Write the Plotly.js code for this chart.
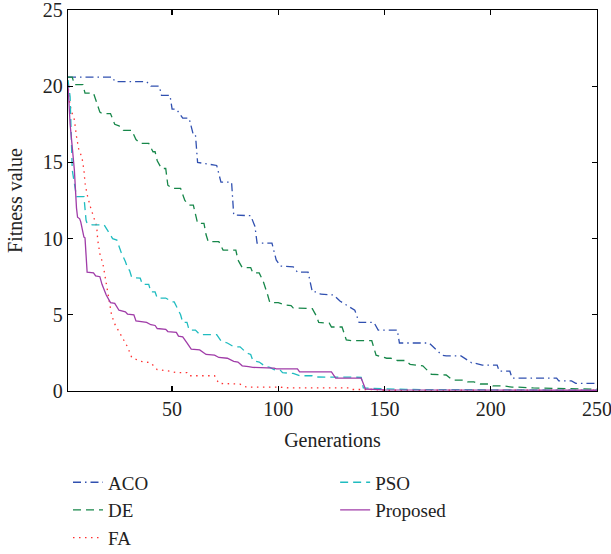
<!DOCTYPE html>
<html>
<head>
<meta charset="utf-8">
<script src="https://cdn.plot.ly/plotly-3.0.1.min.js"></script>
<style>html,body{margin:0;padding:0;background:#fff;}#chart{width:611px;height:554px;}</style>
</head>
<body>
<div id="chart"></div>
<script>
const seriesNames = ["ACO", "DE", "FA", "PSO", "Proposed"];

const acoX = [1,22,23,38,40,44,45,49,50,52,55,58,60,61,62,71,73,78,79,87,89,90,97,99,101,107,109,114,116,118,120,126,129,136,138,145,147,156,157,171,177,179,186,191,192,196,203,204,209,210,231,232,238,240,250];
const acoY = [20.6,20.6,20.3,20.3,20.0,20.0,19.4,19.4,18.5,18.5,17.9,17.9,16.8,16.8,15.0,14.8,13.7,13.7,11.55,11.5,10.8,9.7,9.7,8.6,8.2,8.15,7.8,7.8,6.5,6.5,6.35,6.3,5.9,5.3,4.5,4.5,4.0,4.0,3.15,3.15,2.35,2.3,2.3,1.85,1.85,1.7,1.7,1.3,1.3,0.85,0.85,0.66,0.66,0.5,0.5];

const deX = [1,3,4,8,9,13,16,17,21,23,25,27,31,33,35,39,41,42,43,45,47,48,50,54,56,58,60,61,62,65,66,67,72,74,80,81,83,87,88,91,93,95,96,100,103,106,107,116,118,119,124,125,130,132,135,144,146,151,153,156,160,162,168,172,179,182,187,189,192,195,199,201,206,210,213,220,238,240,250];
const deY = [20.6,20.6,20.1,20.1,19.55,19.55,18.3,18.2,18.2,17.5,17.4,17.1,17.1,16.5,16.25,16.25,15.7,15.7,15.1,14.6,14.6,13.5,13.3,13.3,12.5,12.2,12.2,11.5,11.0,11.0,10.25,9.8,9.8,9.25,9.25,8.6,8.1,8.1,7.75,7.75,7.15,6.3,5.8,5.8,5.65,5.6,5.45,5.4,4.9,4.5,4.45,4.2,4.2,3.35,3.3,3.3,2.35,2.15,2.15,2.0,2.0,1.75,1.65,1.1,1.05,0.72,0.72,0.6,0.6,0.46,0.46,0.33,0.33,0.26,0.26,0.2,0.18,0.13,0.12];

const faX = [1,1.6,2.5,4,5,6,7.6,8.5,9,10,11.5,13,14.5,15,16,17.5,18.5,19.5,20.5,21.5,23,25,27,29,31,35,40,43,49,52,57,58,70,72,82,85,101,105,133,135,146,148,250];
const faY = [20.2,19.1,18.4,17.8,16.7,15.9,15.3,14.5,13.65,12.9,12.1,11.4,10.8,9.9,9.0,8.3,7.4,6.5,5.6,5.0,4.4,3.9,3.4,2.9,2.2,1.95,1.85,1.4,1.3,1.2,1.2,1.0,1.0,0.5,0.45,0.25,0.25,0.2,0.2,0.1,0.1,0.05,0.05];

const psoX = [1,2,3,4.5,5,8.5,9.5,10,12.5,18,22,24,26,28,29,30,31,35,36,39,40,42,43,47,50,51,54,55,57,58,61,63,71,73,76,79,82,85,87,88,91,94,96,98,101,102,107,110,116,118,139,140,150,160,250];
const psoY = [20.4,19.3,14.5,13.0,12.75,12.75,11.2,11.0,10.9,10.9,10.0,9.9,9.1,8.5,8.1,7.9,7.45,7.4,7.0,7.0,6.5,6.5,6.1,6.1,5.85,5.85,5.0,4.5,4.5,4.0,4.0,3.7,3.7,3.3,3.15,2.9,2.9,2.5,2.4,2.0,1.9,1.6,1.55,1.4,1.35,1.2,1.15,1.0,1.0,0.92,0.9,0.2,0.15,0.1,0.05];

const propX = [1,2,3,4,5,5.5,6.5,7,8.5,9,10,13,14,16,17,18,19,21,23,25,28,29,32,33,38,40,42,43,47,48,52,53,55,57,59,63,66,70,72,76,79,81,83,86,88,98,99,109,110,125,127,139,141,150,250];
const propY = [20.1,17.5,16.0,14.5,12.0,11.4,11.3,11.1,10.1,10.05,7.8,7.75,7.55,7.5,7.0,6.6,6.3,5.8,5.75,5.3,5.2,5.05,5.0,4.6,4.5,4.35,4.3,4.1,4.05,3.9,3.85,3.6,3.55,3.15,2.75,2.7,2.4,2.35,2.2,2.15,1.95,1.9,1.65,1.6,1.55,1.5,1.45,1.45,1.25,1.25,0.85,0.85,0.13,0.08,0.05];

const xTicks = [50, 100, 150, 200, 250];
const yTicks = [0, 5, 10, 15, 20, 25];

const FONT = "Liberation Serif, Times New Roman, serif";
const FS = 20;
const LFS = 19;

function tr(name, x, y, color, dash, legend) {
  return {
    type: "scatter", mode: "lines", name: name, x: x, y: y,
    line: {color: color, width: 1.3, dash: dash},
    legend: legend, legendgroup: name
  };
}

const data = [
  tr(seriesNames[0], acoX, acoY, "#3050b0", "8px,4px,1.5px,4px", "legend"),
  tr(seriesNames[1], deX, deY, "#17874a", "8px,5px", "legend"),
  tr(seriesNames[2], faX, faY, "#ff3030", "1.5px,4.5px", "legend"),
  tr(seriesNames[3], psoX, psoY, "#20bcc0", "8px,5px", "legend2"),
  tr(seriesNames[4], propX, propY, "#a03ca8", "solid", "legend2")
];

const axisCommon = {
  showline: true, linecolor: "#000", linewidth: 1.3, mirror: "ticks",
  ticks: "inside", ticklen: 5, tickwidth: 1.3, tickcolor: "#000",
  showgrid: false, zeroline: false, ticklabeloverflow: "allow",
  tickfont: {family: FONT, size: FS, color: "#222"}
};

const legendCommon = {
  xanchor: "left", y: -0.19, yanchor: "top",
  orientation: "v", tracegroupgap: 0, bgcolor: "rgba(0,0,0,0)",
  font: {family: FONT, size: LFS, color: "#222"}
};

const layout = {
  width: 611, height: 554,
  margin: {l: 68, r: 14, t: 10, b: 163, autoexpand: false},
  paper_bgcolor: "#fff", plot_bgcolor: "#fff",
  font: {family: FONT, size: FS, color: "#222"},
  xaxis: Object.assign({}, axisCommon, {
    range: [1, 250], tickmode: "array", tickvals: xTicks,
    title: {text: "Generations", font: {family: FONT, size: FS, color: "#222"}, standoff: 13}
  }),
  yaxis: Object.assign({}, axisCommon, {
    range: [0, 25], tickmode: "array", tickvals: yTicks,
    title: {text: "Fitness value", font: {family: FONT, size: FS, color: "#222"}, standoff: 14}
  }),
  legend: Object.assign({}, legendCommon, {x: 0.0}),
  legend2: Object.assign({}, legendCommon, {x: 0.505}),
  showlegend: true
};

Plotly.newPlot("chart", data, layout, {displayModeBar: false, staticPlot: true});
</script>
</body>
</html>
